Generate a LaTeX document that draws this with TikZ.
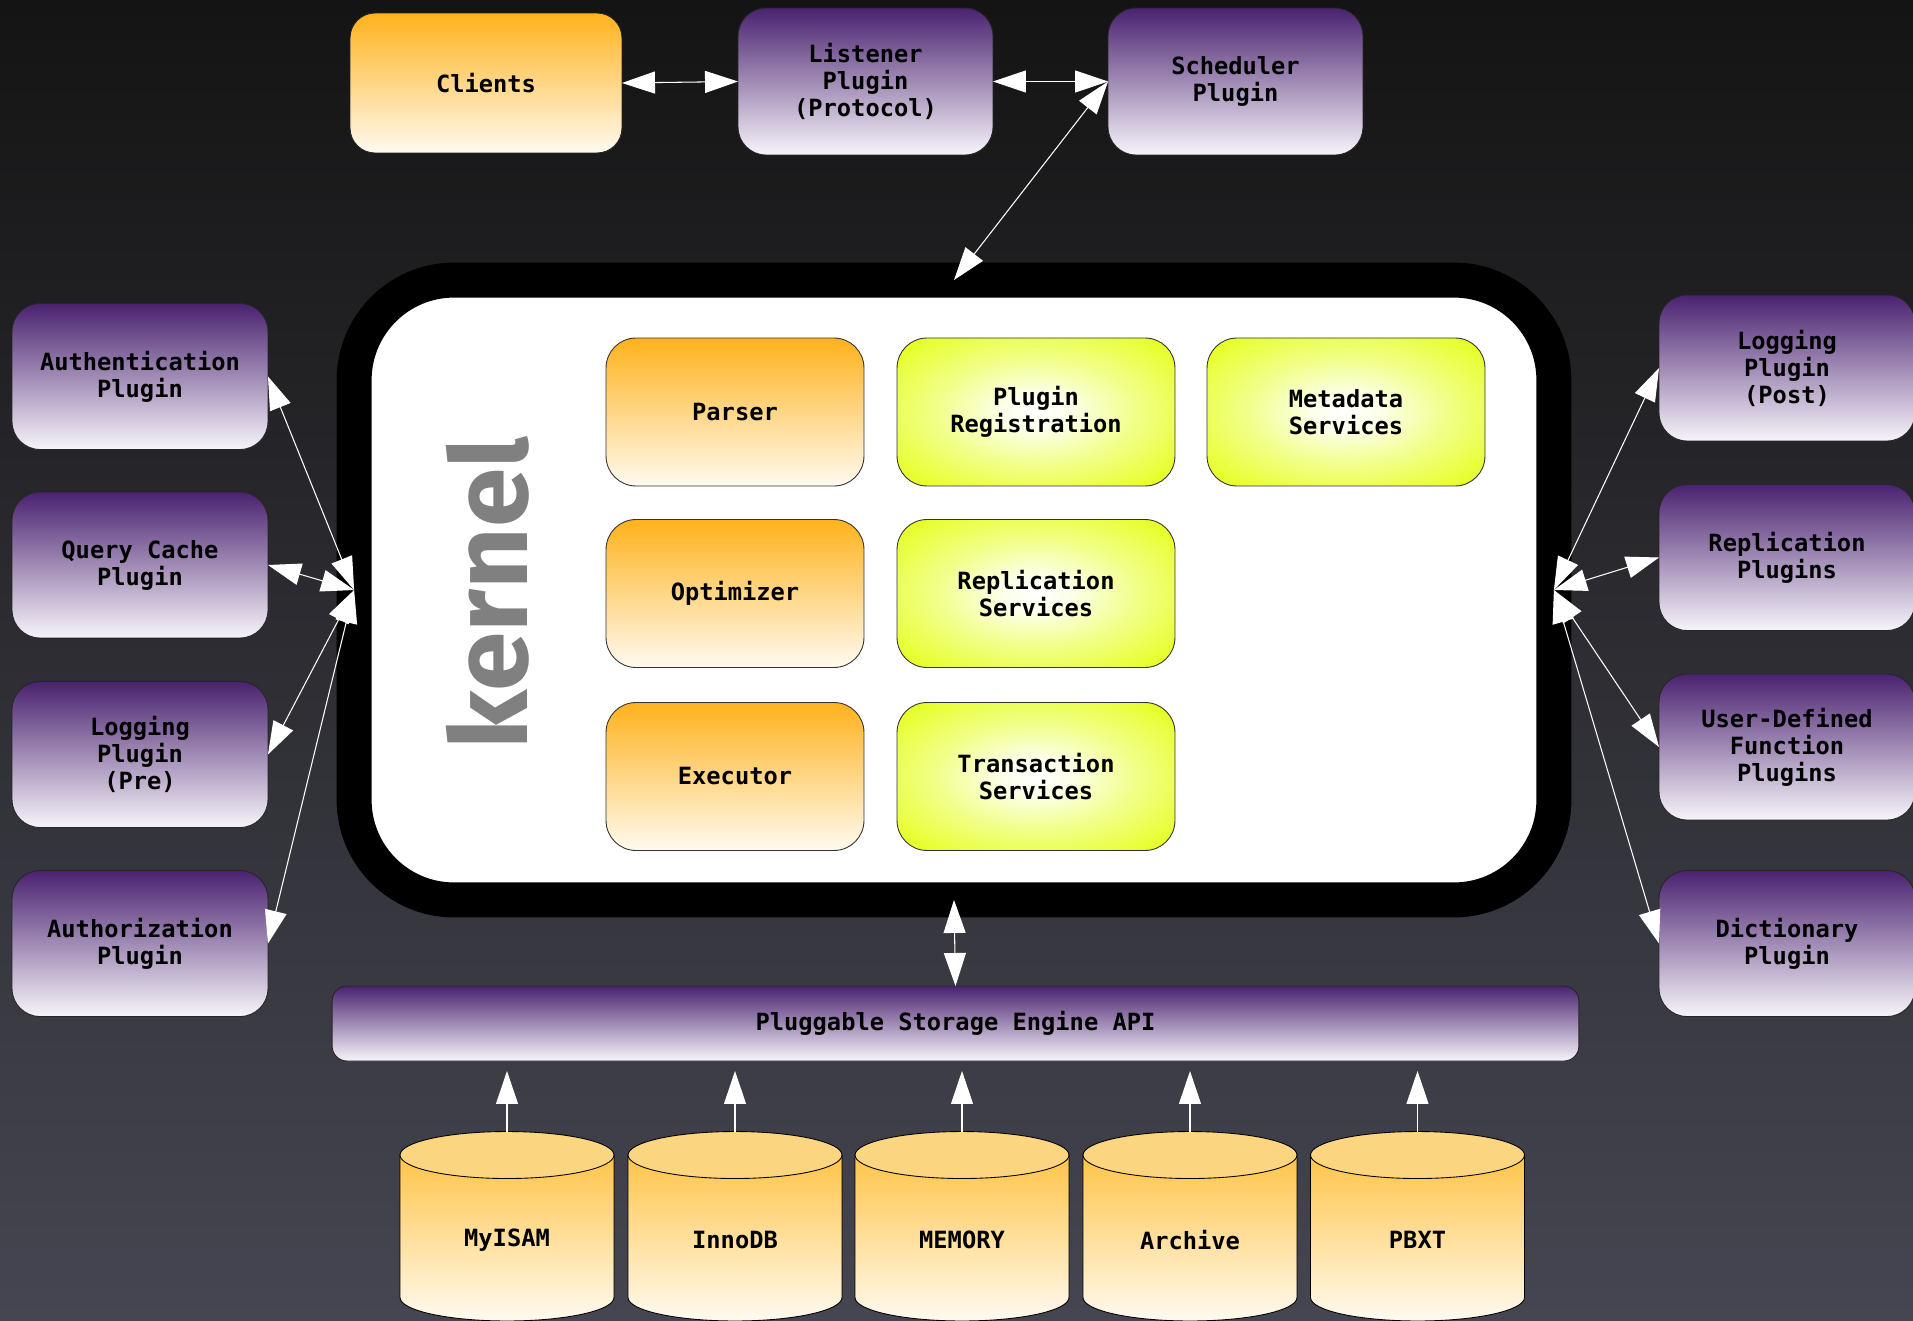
\documentclass[tikz,border=0pt]{standalone}
\usepackage{fontspec}
\setmonofont{DejaVu Sans Mono}
\newfontfamily\kernelfont{Fira Sans}
\usetikzlibrary{arrows.meta,calc}
\definecolor{bgtop}{RGB}{20,20,20}
\definecolor{bgbot}{RGB}{70,70,82}
\definecolor{plugtop}{RGB}{74,34,112}
\definecolor{plugbot}{RGB}{247,244,250}
\definecolor{coretop}{RGB}{255,178,28}
\definecolor{corebot}{RGB}{255,250,240}
\definecolor{svcouter}{RGB}{230,255,40}
\definecolor{cylhi}{RGB}{255,196,72}
\definecolor{cyllo}{RGB}{255,250,240}
\definecolor{cyltop}{RGB}{252,213,128}
\definecolor{kerngray}{RGB}{128,128,128}
\pgfdeclareradialshading{svcglow}{\pgfpoint{0bp}{0bp}}{color(0bp)=(white); color(6bp)=(white!90!svcouter); color(18bp)=(white!45!svcouter); color(32bp)=(svcouter); color(50bp)=(svcouter)}
\newcommand{\boxfont}{\fontsize{13.5}{15.4}\selectfont\ttfamily\bfseries}
\tikzset{
	every node/.style={outer sep=0pt,inner sep=2pt},
	plugin/.style={draw=black!85,line width=0.5pt,rounded corners=0.56cm,top color=plugtop,bottom color=plugbot,minimum width=5.12cm,minimum height=2.92cm,align=center,font=\boxfont},
	client/.style={draw=black!85,line width=0.5pt,rounded corners=0.5cm,top color=coretop,bottom color=corebot,minimum width=5.44cm,minimum height=2.8cm,align=center,font=\boxfont},
	core/.style={draw=black!80,line width=0.5pt,rounded corners=0.6cm,top color=coretop,bottom color=corebot,minimum width=5.16cm,minimum height=2.96cm,align=center,font=\boxfont},
	service/.style={draw=black!80,line width=0.5pt,rounded corners=0.6cm,shading=svcglow,minimum width=5.56cm,minimum height=2.96cm,align=center,font=\boxfont},
	kernelbox/.style={draw=black,line width=0.7cm,fill=white,rounded corners=2cm,minimum width=24cm,minimum height=12.4cm},
	dbcyl/.style={minimum width=4.4cm,minimum height=4.34cm,inner sep=0pt,font=\boxfont,
		path picture={
			\coordinate (cyltopc) at ([yshift=-0.47cm]path picture bounding box.north);
			\shadedraw[top color=cylhi,bottom color=cyllo,draw=black,line width=0.5pt]
				([xshift=-2.14cm]cyltopc) -- ++(0,-2.85cm) arc[start angle=180,end angle=360,x radius=2.14cm,y radius=0.47cm] -- ([xshift=2.14cm]cyltopc) -- cycle;
			\filldraw[fill=cyltop,draw=black,line width=0.5pt] (cyltopc) ellipse[x radius=2.14cm,y radius=0.47cm];
		}},
	directed/.style={white,line width=0.6pt,arrows={Triangle[length=0.66cm,width=0.44cm]-Triangle[length=0.66cm,width=0.44cm]}},
	upward/.style={white,line width=0.6pt,arrows={-Triangle[length=0.66cm,width=0.44cm]},shorten >=0.2cm}
	}
\begin{document}
\begin{tikzpicture}[x=0.02cm,y=-0.02cm]
		\shade[top color=bgtop,bottom color=bgbot] (0,0) rectangle (1913,1321);
		\useasboundingbox (0,0) rectangle (1913,1321);

		% top row
		\node[client] (clients) at (486,83) {Clients};
		\node[plugin,minimum width=5.1cm,minimum height=2.94cm] (listener) at (865.5,81.5) {Listener\\Plugin\\(Protocol)};
		\node[plugin,minimum width=5.1cm,minimum height=2.94cm] (scheduler) at (1235.5,81.5) {Scheduler\\Plugin};

		% kernel
		\node[kernelbox] (kernel) at (954,590) {};
		\node[rotate=90,text=kerngray,font=\kernelfont\bfseries\fontsize{61}{64}\selectfont] (kerneltxt) at (488,593) {kernel};
		\node[core] (parser) at (735,412) {Parser};
		\node[core] (optimizer) at (735,593.5) {Optimizer};
		\node[core] (executor) at (735,776.5) {Executor};
		\node[service] (pluginreg) at (1036,412) {Plugin\\Registration};
		\node[service] (replsvc) at (1036,593.5) {Replication\\Services};
		\node[service] (txnsvc) at (1036,776.5) {Transaction\\Services};
		\node[service] (metadata) at (1346,412) {Metadata\\Services};

		% side plugins
		\node[plugin] (auth) at (140,376.5) {Authentication\\Plugin};
		\node[plugin] (qcache) at (140,565) {Query Cache\\Plugin};
		\node[plugin] (logpre) at (140,754.5) {Logging\\Plugin\\(Pre)};
		\node[plugin] (authz) at (140,943.5) {Authorization\\Plugin};
		\node[plugin] (logpost) at (1787,368) {Logging\\Plugin\\(Post)};
		\node[plugin] (replplug) at (1787,557.5) {Replication\\Plugins};
		\node[plugin] (udf) at (1787,747) {User-Defined\\Function\\Plugins};
		\node[plugin] (dict) at (1787,943.5) {Dictionary\\Plugin};

		% storage engines
		\node[plugin,minimum width=24.94cm,minimum height=1.5cm,rounded corners=0.3cm] (api) at (955.5,1023.5) {Pluggable Storage Engine API};
		\node[dbcyl] (myisam) at (507,1240) {MyISAM};
		\node[dbcyl] (innodb) at (735,1240) {InnoDB};
		\node[dbcyl] (memory) at (962,1240) {MEMORY};
		\node[dbcyl] (archive) at (1190,1240) {Archive};
		\node[dbcyl] (pbxt) at (1417.5,1240) {PBXT};

		\draw[directed] (clients.east) -- (listener.west);
		\draw[directed] (listener.east) -- (scheduler.west);
		\draw[directed] (scheduler.west) -- (kernel.north);
		\draw[directed] (auth.east) -- (kernel.west);
		\draw[directed] (qcache.east) -- (kernel.west);
		\draw[directed] (logpre.east) -- (kernel.west);
		\draw[directed] (authz.east) -- (kernel.west);
		\draw[directed] (logpost.west) -- (kernel.east);
		\draw[directed] (replplug.west) -- (kernel.east);
		\draw[directed] (udf.west) -- (kernel.east);
		\draw[directed] (dict.west) -- (kernel.east);
		\draw[directed] (kernel.south) -- (api.north);
		\draw[upward] (myisam.north) -- (myisam.north |- api.south);
		\draw[upward] (innodb.north) -- (innodb.north |- api.south);
		\draw[upward] (memory.north) -- (memory.north |- api.south);
		\draw[upward] (archive.north) -- (archive.north |- api.south);
		\draw[upward] (pbxt.north) -- (pbxt.north |- api.south);
	\end{tikzpicture}
\end{document}
